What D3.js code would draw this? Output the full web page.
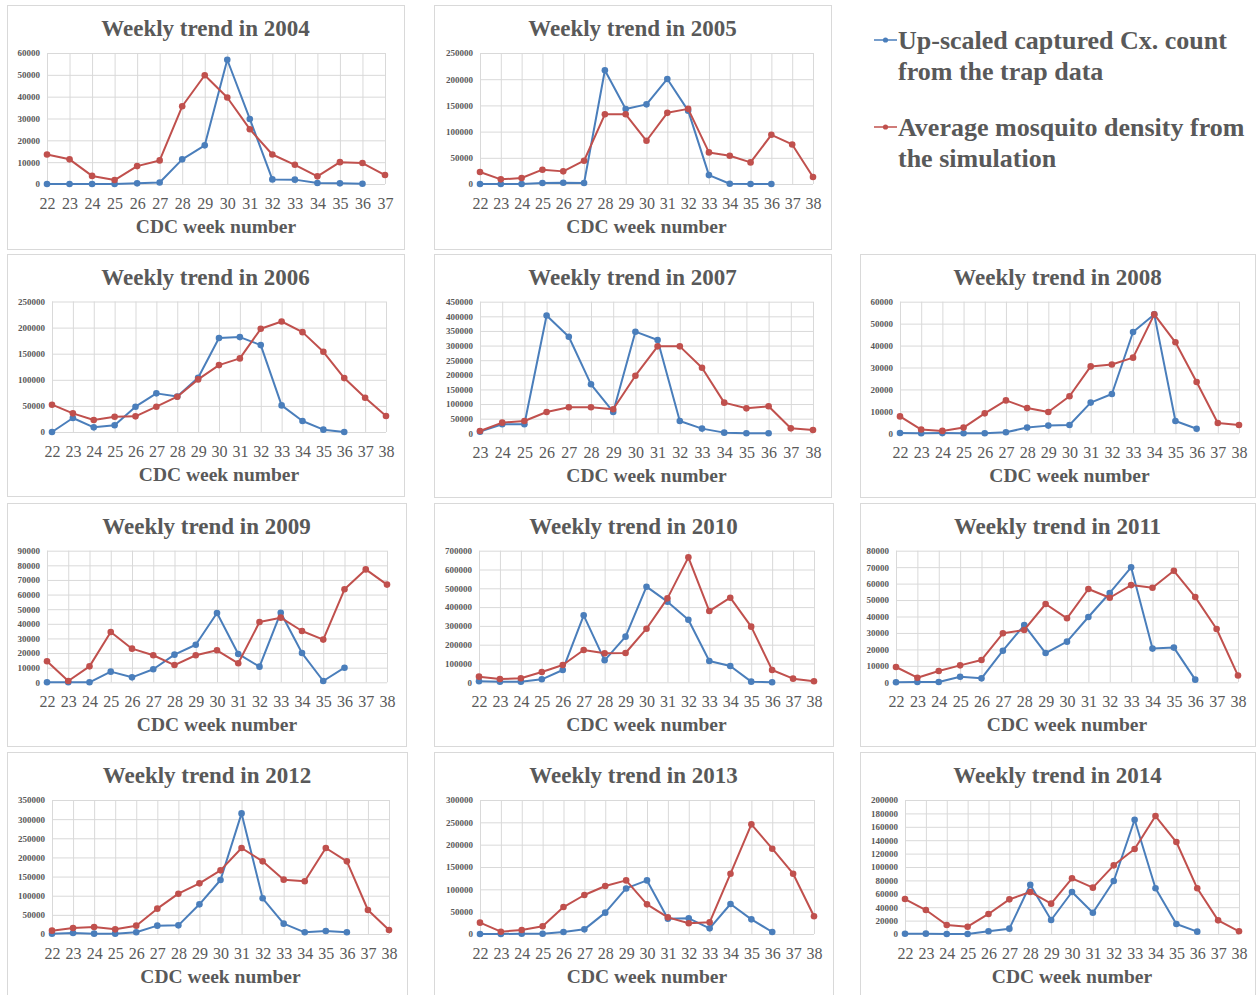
<!DOCTYPE html>
<html>
<head>
<meta charset="utf-8">
<script src="https://cdn.jsdelivr.net/npm/d3@7"></script>
<style>
  body { margin: 0; background: #fff; }
  svg { display: block; font-family: "Liberation Serif", "Times New Roman", serif; }
</style>
</head>
<body>
<svg id="chart" width="1256" height="995"></svg>
<script>
// ---- Data: weekly counts per season (CDC week numbers) ----
const weeks22to37 = [22,23,24,25,26,27,28,29,30,31,32,33,34,35,36,37];
const weeks22to38 = [22,23,24,25,26,27,28,29,30,31,32,33,34,35,36,37,38];
const weeks23to38 = [23,24,25,26,27,28,29,30,31,32,33,34,35,36,37,38];

// Up-scaled captured Cx. count (trap data), weeks 22..36 (2007: 23..36)
const trap2004 = [0,0,0,0,300,700,11300,17700,56900,29800,2100,2000,450,300,100];
const trap2005 = [0,0,0,1900,2500,2000,217000,143000,152000,200500,140000,17000,500,0,0];
const trap2006 = [0,26800,8900,12800,48500,74000,68000,104000,180000,181800,166500,51000,21000,4500,0];
const trap2007 = [5700,30800,30800,403000,330000,167500,72900,347500,319000,42000,16000,2300,0,0];
const trap2008 = [150,0,100,0,0,450,2600,3500,3800,14000,17900,46200,54200,5600,2100];
const trap2009 = [0,0,0,7300,3400,8900,18900,25700,47400,19400,10700,47600,20000,900,10000];
const trap2010 = [5300,3500,3500,16000,65600,356000,117000,242800,508600,428800,333000,113400,86800,3500,0];
const trap2011 = [0,200,200,3400,2400,19200,34800,17800,24700,39700,54300,69900,20500,21100,1600];
const trap2012 = [500,2600,900,900,4400,21800,22600,77500,141000,315000,93200,27000,4400,7800,4400];
const trap2013 = [0,0,700,700,4500,10400,47800,102000,120000,34300,35000,12700,67200,32800,4500];
const trap2014 = [300,500,0,0,4000,8000,73600,20900,62700,31800,79100,170600,68200,14900,3500];

// Average mosquito density from the simulation
const sim2004 = [13500,11300,3700,1800,8200,10800,35600,49800,39600,25100,13500,8800,3500,10000,9600,4100];
const sim2005 = [22800,8900,11400,27300,24100,44400,133000,133000,82500,135800,143400,60300,53900,41200,93900,75500,13300];
const sim2006 = [52300,35700,23000,29300,30000,48500,67600,100800,128200,141000,197700,211700,191300,153700,103300,65700,30600];
const sim2007 = [8000,36500,42000,73000,88900,88900,82000,197000,297300,297300,224400,104800,85400,92300,17000,11400];
const sim2008 = [7700,1700,1100,2600,9100,15000,11500,9700,16900,30500,31400,34500,54200,41500,23400,4700,3800];
const sim2009 = [14400,900,10900,34400,23000,18500,11800,18500,21900,13000,41200,44200,35100,29200,63600,77200,66800];
const sim2010 = [30000,17700,21300,55000,92000,172000,154000,156000,285000,446600,664500,379000,450000,296000,65600,19500,5300];
const sim2011 = [9300,2800,6900,10300,13600,29800,31800,47600,38900,56700,51400,59100,57500,67800,51800,32400,4100];
const sim2012 = [8700,15700,18300,12200,21800,66200,105300,132300,166300,224600,189800,141900,137600,224600,189800,62700,10400];
const sim2013 = [25400,5200,9000,17200,60400,87300,107500,120000,66400,37300,23900,26100,135000,245500,191000,135000,39600];
const sim2014 = [52200,35800,13400,10900,29900,51700,62700,45300,83100,69200,102500,126900,176100,137300,68200,20400,4000];

// Y-axis tick labels for each season
const ticks2004 = [0,10000,20000,30000,40000,50000,60000];
const ticks2005 = [0,50000,100000,150000,200000,250000];
const ticks2006 = [0,50000,100000,150000,200000,250000];
const ticks2007 = [0,50000,100000,150000,200000,250000,300000,350000,400000,450000];
const ticks2008 = [0,10000,20000,30000,40000,50000,60000];
const ticks2009 = [0,10000,20000,30000,40000,50000,60000,70000,80000,90000];
const ticks2010 = [0,100000,200000,300000,400000,500000,600000,700000];
const ticks2011 = [0,10000,20000,30000,40000,50000,60000,70000,80000];
const ticks2012 = [0,50000,100000,150000,200000,250000,300000,350000];
const ticks2013 = [0,50000,100000,150000,200000,250000,300000];
const ticks2014 = [0,20000,40000,60000,80000,100000,120000,140000,160000,180000,200000];

const legendLabels = [
  ["Up-scaled captured Cx. count", "from the trap data"],
  ["Average mosquito density from", "the simulation"]
];

// ---- Styling ----
const BLUE = "#4a7ebb";
const RED = "#c0504d";
const TEXT = "#595959";
const GRID = "#d9d9d9";
const FRAME = "#d9d9d9";

// ---- Panel layout (frame box and plot area, in pixels) ----
const panels = [
  { year: 2004, weeks: weeks22to37, trap: trap2004, sim: sim2004, ticks: ticks2004,
    box: [7, 5, 397, 244], plot: [47, 385, 53, 184] },
  { year: 2005, weeks: weeks22to38, trap: trap2005, sim: sim2005, ticks: ticks2005,
    box: [434, 5, 397, 244], plot: [480, 813, 53, 184] },
  { year: 2006, weeks: weeks22to38, trap: trap2006, sim: sim2006, ticks: ticks2006,
    box: [7, 254, 397, 242], plot: [52, 386, 301.5, 432] },
  { year: 2007, weeks: weeks23to38, trap: trap2007, sim: sim2007, ticks: ticks2007,
    box: [434, 254, 397, 243], plot: [480, 813, 301.7, 433.3] },
  { year: 2008, weeks: weeks22to38, trap: trap2008, sim: sim2008, ticks: ticks2008,
    box: [860, 254, 395, 243], plot: [900, 1239, 301.7, 433.3] },
  { year: 2009, weeks: weeks22to38, trap: trap2009, sim: sim2009, ticks: ticks2009,
    box: [7, 503, 399, 243], plot: [47, 387, 550.7, 682.3] },
  { year: 2010, weeks: weeks22to38, trap: trap2010, sim: sim2010, ticks: ticks2010,
    box: [434, 503, 399, 243], plot: [479, 814, 550.7, 682.3] },
  { year: 2011, weeks: weeks22to38, trap: trap2011, sim: sim2011, ticks: ticks2011,
    box: [860, 503, 395, 243], plot: [896, 1238, 550.7, 682.3] },
  { year: 2012, weeks: weeks22to38, trap: trap2012, sim: sim2012, ticks: ticks2012,
    box: [7, 752, 400, 243], plot: [52, 389, 800, 934] },
  { year: 2013, weeks: weeks22to38, trap: trap2013, sim: sim2013, ticks: ticks2013,
    box: [434, 752, 399, 243], plot: [480, 814, 800, 934] },
  { year: 2014, weeks: weeks22to38, trap: trap2014, sim: sim2014, ticks: ticks2014,
    box: [860, 752, 395, 243], plot: [905, 1239, 800, 934] }
];

const svg = d3.select("#chart");

function drawPanel(p) {
  const [bx, by, bw, bh] = p.box;
  const [left, right, top, bottom] = p.plot;
  const g = svg.append("g").attr("class", "panel");

  g.append("rect")
    .attr("x", bx + 0.5).attr("y", by + 0.5)
    .attr("width", bw).attr("height", bh)
    .attr("fill", "#fff").attr("stroke", FRAME).attr("stroke-width", 1);

  const x = d3.scalePoint().domain(p.weeks).range([left, right]).padding(0);
  const y = d3.scaleLinear().domain([0, d3.max(p.ticks)]).range([bottom, top]);

  // Horizontal gridlines + y labels
  const yAxis = d3.axisLeft(y).tickValues(p.ticks).tickSize(-(right - left)).tickPadding(7)
    .tickFormat(d3.format("d"));
  const ya = g.append("g").attr("transform", `translate(${left},0)`).call(yAxis);
  ya.select(".domain").remove();
  ya.selectAll(".tick line").attr("stroke", GRID).attr("stroke-width", 1);
  ya.selectAll(".tick text").attr("fill", TEXT).attr("font-size", 9).attr("font-weight", "bold")
    .attr("font-family", "'Liberation Serif', serif");

  // Vertical gridlines + week labels
  const xAxis = d3.axisBottom(x).tickSize(-(bottom - top)).tickPadding(0);
  const xa = g.append("g").attr("transform", `translate(0,${bottom})`).call(xAxis);
  xa.select(".domain").remove();
  xa.selectAll(".tick line").attr("stroke", GRID).attr("stroke-width", 1);
  xa.selectAll(".tick text")
    .attr("y", 0).attr("dy", 0)
    .attr("transform", "translate(0,25)")
    .attr("fill", TEXT).attr("font-size", 16)
    .attr("font-family", "'Liberation Serif', serif");

  // Title and axis title
  g.append("text")
    .attr("x", bx + bw / 2).attr("y", top - 17)
    .attr("text-anchor", "middle").attr("fill", TEXT)
    .attr("font-size", 23).attr("font-weight", "bold")
    .text(`Weekly trend in ${p.year}`);
  g.append("text")
    .attr("x", (left + right) / 2).attr("y", bottom + 49)
    .attr("text-anchor", "middle").attr("fill", TEXT)
    .attr("font-size", 19.5).attr("font-weight", "bold")
    .text("CDC week number");

  // Series: trap counts (blue) under simulation (red)
  const series = [
    { values: p.trap, color: BLUE },
    { values: p.sim, color: RED }
  ];
  series.forEach(s => {
    const pts = s.values.map((v, i) => [p.weeks[i], v]);
    const line = d3.line().x(d => x(d[0])).y(d => y(d[1]));
    g.append("path").datum(pts)
      .attr("fill", "none").attr("stroke", s.color)
      .attr("stroke-width", 2).attr("stroke-linejoin", "round")
      .attr("d", line);
    g.append("g").selectAll("circle").data(pts).join("circle")
      .attr("cx", d => x(d[0])).attr("cy", d => y(d[1]))
      .attr("r", 3.3).attr("fill", s.color);
  });
}

panels.forEach(drawPanel);

// ---- Legend ----
const legend = svg.append("g").attr("class", "legend");
const legendColors = [BLUE, RED];
const legendTop = [49, 136];
legendLabels.forEach((lines, i) => {
  const ly = legendTop[i];
  legend.append("line")
    .attr("x1", 874).attr("x2", 897).attr("y1", ly - 9).attr("y2", ly - 9)
    .attr("stroke", legendColors[i]).attr("stroke-width", 1.5);
  legend.append("circle").attr("cx", 885.5).attr("cy", ly - 9).attr("r", 2.6)
    .attr("fill", legendColors[i]);
  lines.forEach((t, j) => {
    legend.append("text")
      .attr("x", 898).attr("y", ly + j * 31)
      .attr("fill", TEXT).attr("font-size", 26).attr("font-weight", "bold")
      .text(t);
  });
});
</script>
</body>
</html>
